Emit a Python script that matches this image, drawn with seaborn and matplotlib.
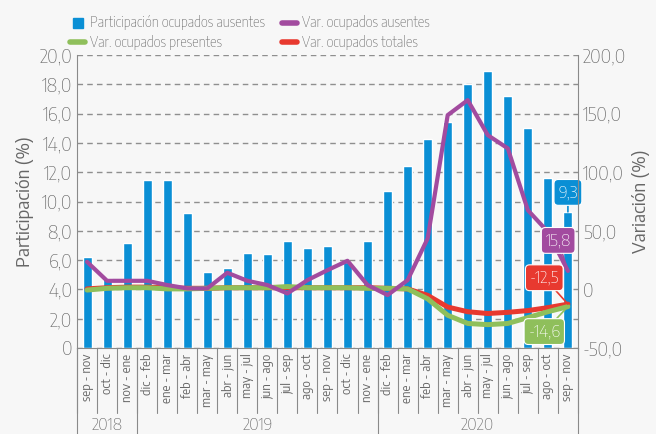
import numpy as np
import pandas as pd
import matplotlib.pyplot as plt
from matplotlib.lines import Line2D
import seaborn as sns

# Data
periodos = ['sep - nov', 'oct - dic', 'nov - ene',
            'dic - feb', 'ene - mar', 'feb - abr', 'mar - may', 'abr - jun', 'may - jul',
            'jun - ago', 'jul - sep', 'ago - oct', 'sep - nov', 'oct - dic', 'nov - ene',
            'dic - feb', 'ene - mar', 'feb - abr', 'mar - may', 'abr - jun', 'may - jul',
            'jun - ago', 'jul - sep', 'ago - oct', 'sep - nov']
anios = ['2018', '2019', '2020']
anio_n = [3, 12, 10]

part_ausentes = [6.2, 4.8, 7.2, 11.5, 11.5, 9.2, 5.2, 5.5, 6.5, 6.4, 7.3, 6.8, 7.0,
                 5.9, 7.3, 10.7, 12.4, 14.3, 15.4, 18.0, 18.9, 17.2, 15.0, 11.6, 9.3]
var_ausentes = [23.6, 7.4, 7.4, 7.4, 3.8, 0.9, 0.9, 14.3, 7.4, 3.8, -3.4, 8.0, 16.5,
                24.5, 3.8, -4.8, 8.0, 43.6, 148.8, 161.6, 131.7, 120.4, 67.7, 49.2, 15.8]
var_presentes = [-0.5, 1.0, 1.5, 1.5, 0.5, 0.5, 1.0, 1.5, 1.5, 1.5, 2.5, 1.5, 1.5,
                 1.5, 1.0, 1.0, 0.5, -8.0, -22.0, -29.0, -30.0, -29.0, -24.0, -19.0, -14.6]
var_totales = [0.5, 1.5, 2.0, 2.0, 1.5, 1.0, 1.0, 1.5, 1.5, 1.5, 1.5, 1.5, 1.5,
               1.5, 1.5, 1.0, 0.5, -5.0, -15.0, -19.0, -20.5, -19.5, -18.0, -15.5, -12.5]

df = pd.DataFrame({'idx': np.arange(len(periodos)), 'part': part_ausentes,
                   'aus': var_ausentes, 'pres': var_presentes, 'tot': var_totales})

blue = '#0a8fd5'
purple = '#a24b9f'
green = '#8fbf5b'
red = '#e8392f'
grey = '#666666'
bg = '#f7f7f7'

sns.set_style('white')
plt.rcParams['font.family'] = ['Encode Sans Semi Condensed', 'DejaVu Sans']
plt.rcParams['font.weight'] = 'light'

fig = plt.figure(figsize=(6.56, 4.34), dpi=100, facecolor=bg)
ax = fig.add_axes([0.1174, 0.198, 0.7636, 0.675])
ax.set_facecolor(bg)

sns.barplot(data=df, x='idx', y='part', color=blue, width=0.45, saturation=1, ax=ax, zorder=2)
ax.set_ylim(0, 20)
ax.set_xlim(-0.5, len(periodos) - 0.5)
ax.set_yticks(np.arange(0, 20.1, 2))
ax.set_yticklabels(['0'] + [f'{v:.1f}'.replace('.', ',') for v in np.arange(2, 20.1, 2)])
ax.yaxis.grid(True, color='#8f8f8f', linestyle=(0, (4, 3)), linewidth=1)
ax.set_axisbelow(True)
ax.set_xticks(df['idx'])
ax.set_xticklabels(periodos, rotation=90, fontsize=9, color='#555555', va='top',
                   fontweight='normal')
ax.tick_params(axis='both', length=0, colors=grey)
ax.tick_params(axis='y', labelsize=13.5)
ax.tick_params(axis='x', pad=4)
ax.set_xlabel('')
ax.set_ylabel('Participación (%)', fontsize=13.5, color=grey, labelpad=4)
for s in ['left', 'bottom']:
    ax.spines[s].set_color('#8a8a8a')
ax.spines['top'].set_visible(False)
ax.spines['right'].set_visible(False)

ax2 = ax.twinx()
sns.lineplot(data=df, x='idx', y='tot', color=red, linewidth=3.6, ax=ax2)
sns.lineplot(data=df, x='idx', y='pres', color=green, linewidth=3.6, ax=ax2)
sns.lineplot(data=df, x='idx', y='aus', color=purple, linewidth=3.0, ax=ax2)
ax2.set_ylim(-50, 200)
ax2.set_xlim(-0.5, len(periodos) - 0.5)
ax2.set_yticks(np.arange(-50, 201, 50))
ax2.set_yticklabels([('0' if v == 0 else f'{v:.1f}'.replace('.', ',')) for v in np.arange(-50, 201, 50)])
ax2.tick_params(axis='y', length=0, colors=grey, labelsize=13.5)
ax2.set_ylabel('Variación (%)', fontsize=13.5, color=grey, labelpad=4)
ax2.set_xlabel('')
ax2.spines['right'].set_color('#8a8a8a')
for s in ['left', 'top', 'bottom']:
    ax2.spines[s].set_visible(False)

# category separators and year groups below the axis
trans = ax.get_xaxis_transform()
for b in np.arange(-0.5, len(periodos), 1.0):
    ax.plot([b, b], [0, -0.222], transform=trans, color='#8a8a8a', lw=0.8, clip_on=False)
start = -0.5
for anio, n in zip(anios, anio_n):
    ax.plot([start, start], [0, -0.32], transform=trans, color='#8a8a8a', lw=0.8, clip_on=False)
    ax.text(start + n / 2, -0.265, anio, transform=trans, ha='center', va='center',
            fontsize=12, color=grey)
    start += n
ax.plot([start, start], [0, -0.32], transform=trans, color='#8a8a8a', lw=0.8, clip_on=False)

# value call-outs
last = len(periodos) - 1
def callout(axis, y, txt, color, off):
    axis.annotate(txt, xy=(last, y), xytext=off, textcoords='offset points',
                  ha='center', va='center', fontsize=12, color='white', zorder=10,
                  bbox=dict(boxstyle='round,pad=0.25', fc=color, ec='white', lw=0.8),
                  arrowprops=dict(arrowstyle='-', color=color, lw=1.2, shrinkA=0, shrinkB=0))

callout(ax, part_ausentes[-1], '9,3', blue, (0, 14))
callout(ax2, var_ausentes[-1], '15,8', purple, (-7, 22))
callout(ax2, var_totales[-1], '-12,5', red, (-17, 19))
callout(ax2, var_presentes[-1], '-14,6', green, (-17, -18))

handles = [Line2D([], [], marker='s', color=blue, linestyle='none', markersize=7),
           Line2D([], [], color=green, lw=4),
           Line2D([], [], color=purple, lw=4),
           Line2D([], [], color=red, lw=4)]
labels = ['Participación ocupados ausentes', 'Var. ocupados presentes',
          'Var. ocupados ausentes', 'Var. ocupados totales']
fig.legend(handles, labels, ncol=2, loc='upper left', bbox_to_anchor=(0.09, 0.99),
           frameon=False, fontsize=10, labelcolor=grey, handlelength=1.1,
           handletextpad=0.35, columnspacing=1.2, labelspacing=0.35, borderpad=0.3)

fig.savefig('out.png', dpi=100, facecolor=bg)
